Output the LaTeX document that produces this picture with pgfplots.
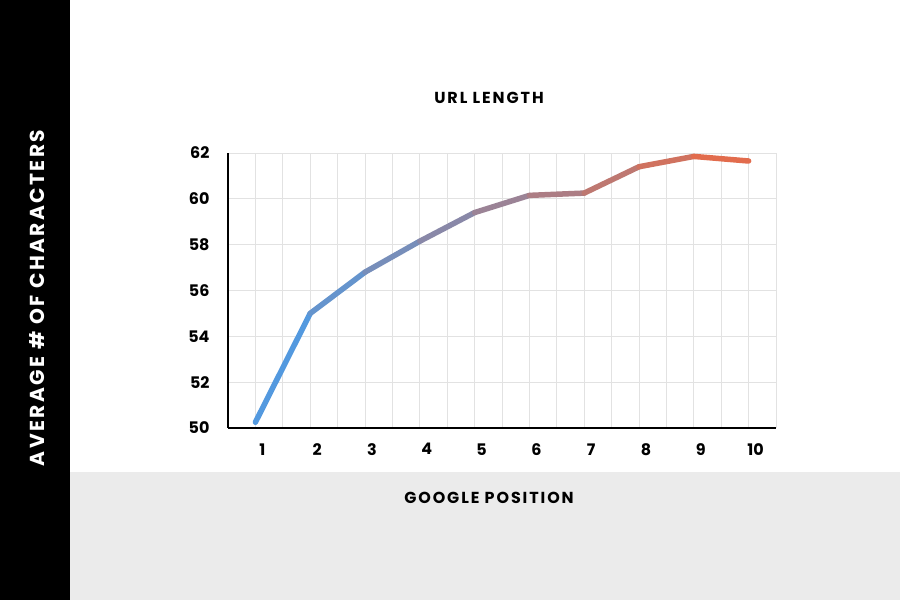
\documentclass[border=0pt]{standalone}
\usepackage{fontspec}
\setmainfont{Poppins}
\newfontfamily\capsfont[LetterSpace=12]{Poppins}
\usepackage{pgfplots}
\usepackage{pgfplotstable}
\pgfplotsset{compat=1.18}

\definecolor{bandgray}{HTML}{EBEBEB}
\definecolor{gridgray}{HTML}{E2E2E2}
\definecolor{lineblue}{HTML}{4A9CE8}
\definecolor{lineorange}{HTML}{EA6A45}

% average URL length (characters) by Google position
\pgfplotstableread{
pos chars
1  50.25
2  55.0
3  56.8
4  58.15
5  59.4
6  60.15
7  60.25
8  61.4
9  61.85
10 61.65
}\urldata

\begin{document}
\begin{tikzpicture}[x=1bp,y=1bp]
% page background, side band and bottom band
\fill[white] (0,0) rectangle (900,600);
\fill[bandgray] (70,0) rectangle (900,128);
\fill[black] (0,0) rectangle (70,600);

\node[white, rotate=90, font=\capsfont\bfseries\fontsize{20.3}{20}\selectfont]
  at (37,302) {AVERAGE \# OF CHARACTERS};
\node[font=\capsfont\bfseries\fontsize{16}{16}\selectfont] at (489,502) {URL LENGTH};
\node[font=\capsfont\bfseries\fontsize{16}{16}\selectfont] at (489,102) {GOOGLE POSITION};

\begin{axis}[
    at={(228bp,172bp)}, anchor=south west,
    scale only axis,
    width=548bp, height=275bp,
    xmin=0.5, xmax=10.5,
    ymin=50, ymax=62,
    xtick={1,...,10},
    minor xtick={0.5,1.5,...,10.5},
    ytick={50,52,...,62},
    axis lines=left,
    axis line style={-, line width=2.6bp, black},
    grid=both,
    major grid style={gridgray, line width=0.8bp},
    minor grid style={gridgray, line width=0.8bp},
    tick style={draw=none},
    major tick length=0pt,
    minor tick length=0pt,
    /pgf/number format/assume math mode=true,
    ticklabel style={font=\bfseries\fontsize{16}{16}\selectfont},
    yticklabel style={xshift=-15bp},
    xticklabel style={yshift=-12bp, xshift=7bp},
    clip=false,
]
\addplot[mesh, point meta=x, point meta min=1, point meta max=10,
    colormap={urlgrad}{color=(lineblue) color=(lineorange)},
    line width=5.5bp, line cap=round, line join=round]
    table[x=pos, y=chars] {\urldata};
\end{axis}
\end{tikzpicture}
\end{document}
